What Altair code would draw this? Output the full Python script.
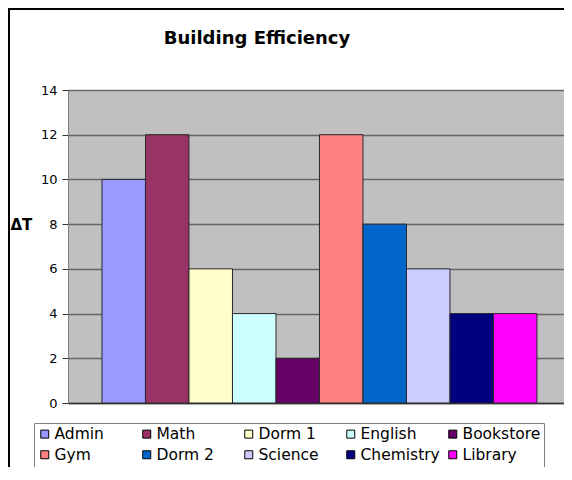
import altair as alt
import pandas as pd

buildings = ["Admin", "Math", "Dorm 1", "English", "Bookstore",
             "Gym", "Dorm 2", "Science", "Chemistry", "Library"]
delta_t = [10, 12, 6, 4, 2, 12, 8, 6, 4, 4]
colors = ["#9999FF", "#993366", "#FFFFCC", "#CCFFFF", "#660066",
          "#FF8080", "#0066CC", "#CCCCFF", "#000080", "#FF00FF"]
y_ticks = [0, 2, 4, 6, 8, 10, 12, 14]
chart_title = "Building Efficiency"

df = pd.DataFrame({"Building": buildings, "dT": delta_t})

FONT = "DejaVu Sans"

bars = alt.Chart(df).mark_bar(stroke="#2a2a2a", strokeWidth=1).encode(
    x=alt.X("Building:N", sort=buildings,
            scale=alt.Scale(paddingInner=0, paddingOuter=0.701, align=0.557),
            axis=alt.Axis(labels=False, ticks=False, title=None, grid=False,
                          domainColor="#333333", domainWidth=1.5)),
    y=alt.Y("dT:Q", scale=alt.Scale(domain=[0, 14], nice=False),
            axis=alt.Axis(values=y_ticks, title="ΔT", titleAngle=0,
                          titleX=-58, titleY=134, titleAlign="left",
                          titleBaseline="middle", titleFont=FONT,
                          titleFontSize=15, titleFontWeight="bold",
                          titleColor="#000000",
                          labelFont=FONT, labelFontSize=13, labelColor="#000000",
                          labelPadding=5, tickSize=6, tickColor="#333333",
                          domainColor="#808080", gridColor="#666666",
                          gridWidth=1.5)),
    color=alt.Color("Building:N", sort=buildings,
                    scale=alt.Scale(domain=buildings, range=colors),
                    legend=alt.Legend(title=None, orient="none", legendX=-34,
                                      legendY=333, columns=5,
                                      direction="horizontal",
                                      symbolType="square", symbolSize=64,
                                      symbolStrokeColor="#000000",
                                      symbolStrokeWidth=1, symbolOpacity=1,
                                      labelFont=FONT, labelFontSize=15.5,
                                      labelColor="#000000", labelOffset=2,
                                      labelLimit=200,
                                      columnPadding=5, rowPadding=4,
                                      padding=3, strokeColor="#808080",
                                      gridAlign="all")),
)

deco_df = pd.DataFrame({"k": [0]})
top_line = alt.Chart(deco_df).mark_rule(color="#000000", strokeWidth=2).encode(
    x=alt.value(-60), x2=alt.value(520), y=alt.value(-81))
left_line = alt.Chart(deco_df).mark_rule(color="#000000", strokeWidth=2).encode(
    x=alt.value(-59), y=alt.value(-82), y2=alt.value(400))
title = alt.Chart(deco_df).mark_text(
    text=chart_title, font=FONT, fontSize=18, fontWeight="bold",
    color="#000000", align="center", baseline="alphabetic").encode(
    x=alt.value(189), y=alt.value(-46))

chart = alt.layer(top_line, left_line, title, bars).properties(
    width=496, height=313,
    padding={"left": 60, "top": 82, "right": 0, "bottom": 64},
    autosize="none",
).configure_view(fill="#C0C0C0", strokeWidth=0)

chart.save("out.html", embed_options={"renderer": "svg", "actions": False})
